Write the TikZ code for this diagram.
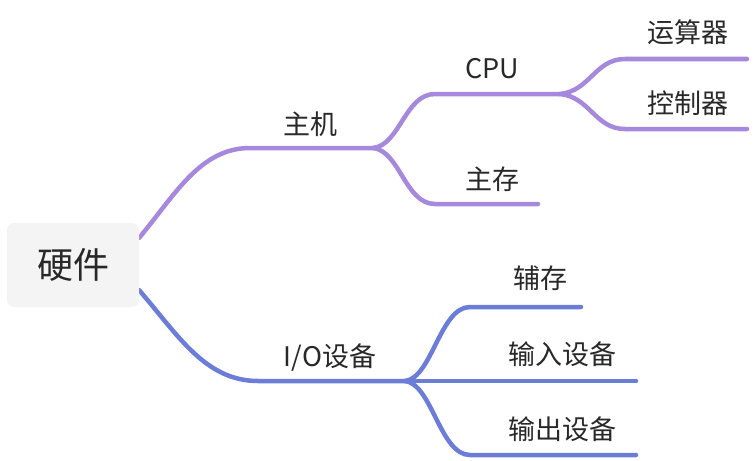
\documentclass[tikz,border=0pt]{standalone}
\usepackage{fontspec}
\setmainfont{Noto Sans CJK SC}
\begin{document}
\begin{tikzpicture}[x=1pt,y=-1pt,
  pbr/.style={draw=purpleline,line width=4.5pt,line cap=round},
  bbr/.style={draw=blueline,line width=4.5pt,line cap=round},
  lbl/.style={text=textc,font=\fontsize{27}{32}\selectfont,inner sep=0pt,anchor=base},
]
\definecolor{purpleline}{RGB}{166,136,220}
\definecolor{blueline}{RGB}{107,125,214}
\definecolor{textc}{RGB}{40,40,40}
\definecolor{rootfill}{RGB}{244,244,244}
\useasboundingbox (0,0) rectangle (754,460);
% junction and end coordinates
\coordinate (ps) at (139,238);
\coordinate (pa) at (250,148);
\coordinate (pj) at (373,148);
\coordinate (ca) at (435,94);
\coordinate (cj) at (560,94);
\coordinate (ya) at (625,59);
\coordinate (ye) at (747,59);
\coordinate (ka) at (625,129);
\coordinate (ke) at (747,129);
\coordinate (za) at (435,204);
\coordinate (ze) at (538,204);
\coordinate (bs) at (139,290);
\coordinate (ba) at (258,381);
\coordinate (bj) at (405,381);
\coordinate (fa) at (470,307);
\coordinate (fe) at (581,307);
\coordinate (ie) at (636,381);
\coordinate (oa) at (470,455);
\coordinate (oe) at (636,455);
% connectors
\draw[pbr] (ps) .. controls (175,195) and (200,148) .. (pa) -- (pj);
\draw[pbr] (pj) .. controls (400,145) and (405,94) .. (ca) -- (cj);
\draw[pbr] (pj) .. controls (400,151) and (405,204) .. (za) -- (ze);
\draw[pbr] (cj) .. controls (590,91) and (595,59) .. (ya) -- (ye);
\draw[pbr] (cj) .. controls (590,97) and (595,129) .. (ka) -- (ke);
\draw[bbr] (bs) .. controls (178,335) and (205,381) .. (ba) -- (bj);
\draw[bbr] (bj) .. controls (432,378) and (440,307) .. (fa) -- (fe);
\draw[bbr] (bj) -- (ie);
\draw[bbr] (bj) .. controls (432,384) and (440,455) .. (oa) -- (oe);
% root
\node[fill=rootfill,rounded corners=7pt,minimum width=132pt,minimum height=84pt,inner sep=0pt,
      text=textc,font=\fontsize{36}{42}\selectfont] (root) at (73,265) {硬件};
% labels
\node[lbl] (zhuji) at (310,134) {主机};
\node[lbl] (cpu) at (492,78) {CPU};
\node[lbl] (zhucun) at (492,189) {主存};
\node[lbl] (yunsuan) at (688,42) {运算器};
\node[lbl] (kongzhi) at (688,113) {控制器};
\node[lbl] (io) at (330,366) {I/O设备};
\node[lbl] (fucun) at (540,288) {辅存};
\node[lbl] (shuru) at (562,364) {输入设备};
\node[lbl] (shuchu) at (562,439) {输出设备};
\end{tikzpicture}
\end{document}
